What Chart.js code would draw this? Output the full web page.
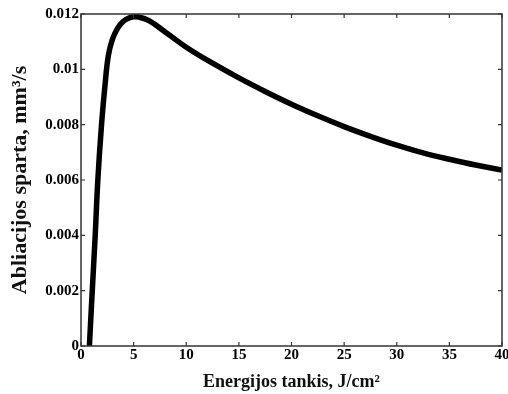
<!DOCTYPE html>
<html>
<head>
<meta charset="utf-8">
<script src="https://cdn.jsdelivr.net/npm/chart.js@4/dist/chart.umd.min.js"></script>
<style>
  html, body { margin: 0; padding: 0; background: #fff; }
  #wrap { width: 508px; height: 394px; }
</style>
</head>
<body>
<div id="wrap"><canvas id="chart" width="508" height="394"></canvas></div>
<script>
// Energy density (J/cm2) and ablation rate (mm3/s)
const energy = [0.8, 1.0, 1.35, 1.6, 1.95, 2.3, 2.6, 3.0, 3.5, 4.0, 4.5, 5.0, 5.5, 6.5, 8, 10, 12.5, 15, 17.5, 20, 22.5, 25, 27.5, 30, 32.5, 35, 37.5, 40];
const rate = [0, 0.0015, 0.004, 0.006, 0.008, 0.0095, 0.0105, 0.0111, 0.0115, 0.01173, 0.01185, 0.0119, 0.01189, 0.01175, 0.01135, 0.0108, 0.01022, 0.00969, 0.0092, 0.00874, 0.00832, 0.00793, 0.00758, 0.00726, 0.00698, 0.00675, 0.00654, 0.00636];

const xTicks = [0, 5, 10, 15, 20, 25, 30, 35, 40];
const yTicks = [0, 0.002, 0.004, 0.006, 0.008, 0.01, 0.012];

const xTitle = "Energijos tankis, J/cm\u00B2";
const yTitle = "Abliacijos sparta, mm\u00B3/s";

const points = energy.map((e, i) => ({ x: e, y: rate[i] }));

// frame with inward ticks on all four sides (MATLAB look)
const framePlugin = {
  id: "frame",
  afterDatasetsDraw(chart) {
    const { ctx, chartArea: a, scales } = chart;
    const len = 4;
    ctx.save();
    ctx.strokeStyle = "#333";
    ctx.lineWidth = 1.5;
    ctx.strokeRect(a.left, a.top, a.right - a.left, a.bottom - a.top);
    ctx.lineWidth = 1.2;
    ctx.beginPath();
    xTicks.forEach((v) => {
      const px = scales.x.getPixelForValue(v);
      ctx.moveTo(px, a.bottom);
      ctx.lineTo(px, a.bottom - len);
      ctx.moveTo(px, a.top);
      ctx.lineTo(px, a.top + len);
    });
    yTicks.forEach((v) => {
      const py = scales.y.getPixelForValue(v);
      ctx.moveTo(a.left, py);
      ctx.lineTo(a.left + len, py);
      ctx.moveTo(a.right, py);
      ctx.lineTo(a.right - len, py);
    });
    ctx.stroke();
    ctx.restore();
  },
};

const serif = "'Liberation Serif', 'Times New Roman', serif";
const tickFont = { family: serif, size: 15, weight: "bold" };

new Chart(document.getElementById("chart").getContext("2d"), {
  type: "line",
  data: {
    datasets: [
      {
        data: points,
        borderColor: "#000",
        borderWidth: 5.5,
        pointRadius: 0,
        fill: false,
        tension: 0.4,
      },
    ],
  },
  options: {
    responsive: false,
    animation: false,
    layout: { padding: { top: 14, right: 6, left: 0, bottom: 0 } },
    plugins: {
      legend: { display: false },
      tooltip: { enabled: false },
    },
    scales: {
      x: {
        type: "linear",
        min: 0,
        max: 40,
        grid: { display: false, drawTicks: false },
        border: { display: false },
        afterBuildTicks: (scale) => {
          scale.ticks = xTicks.map((v) => ({ value: v }));
        },
        afterFit: (scale) => {
          scale.height = 48;
          scale.paddingLeft = 0;
          scale.paddingRight = 0;
        },
        ticks: {
          color: "#000",
          font: tickFont,
          padding: 0,
          maxRotation: 0,
          autoSkip: false,
        },
        title: {
          display: true,
          text: xTitle,
          color: "#111",
          font: { family: serif, size: 18, weight: "bold" },
          padding: { top: 0, bottom: 1 },
        },
      },
      y: {
        type: "linear",
        min: 0,
        max: 0.012,
        grid: { display: false, drawTicks: false },
        border: { display: false },
        afterBuildTicks: (scale) => {
          scale.ticks = yTicks.map((v) => ({ value: v }));
        },
        afterFit: (scale) => {
          scale.width = 81;
          scale.paddingTop = 0;
          scale.paddingBottom = 0;
        },
        ticks: {
          color: "#000",
          font: tickFont,
          padding: 2,
          callback: (v) => String(Math.round(v * 1000) / 1000),
        },
        title: {
          display: true,
          text: yTitle,
          color: "#111",
          font: { family: serif, size: 22, weight: "bold" },
          padding: { top: 7, bottom: 0 },
        },
      },
    },
  },
  plugins: [framePlugin],
});
</script>
</body>
</html>
